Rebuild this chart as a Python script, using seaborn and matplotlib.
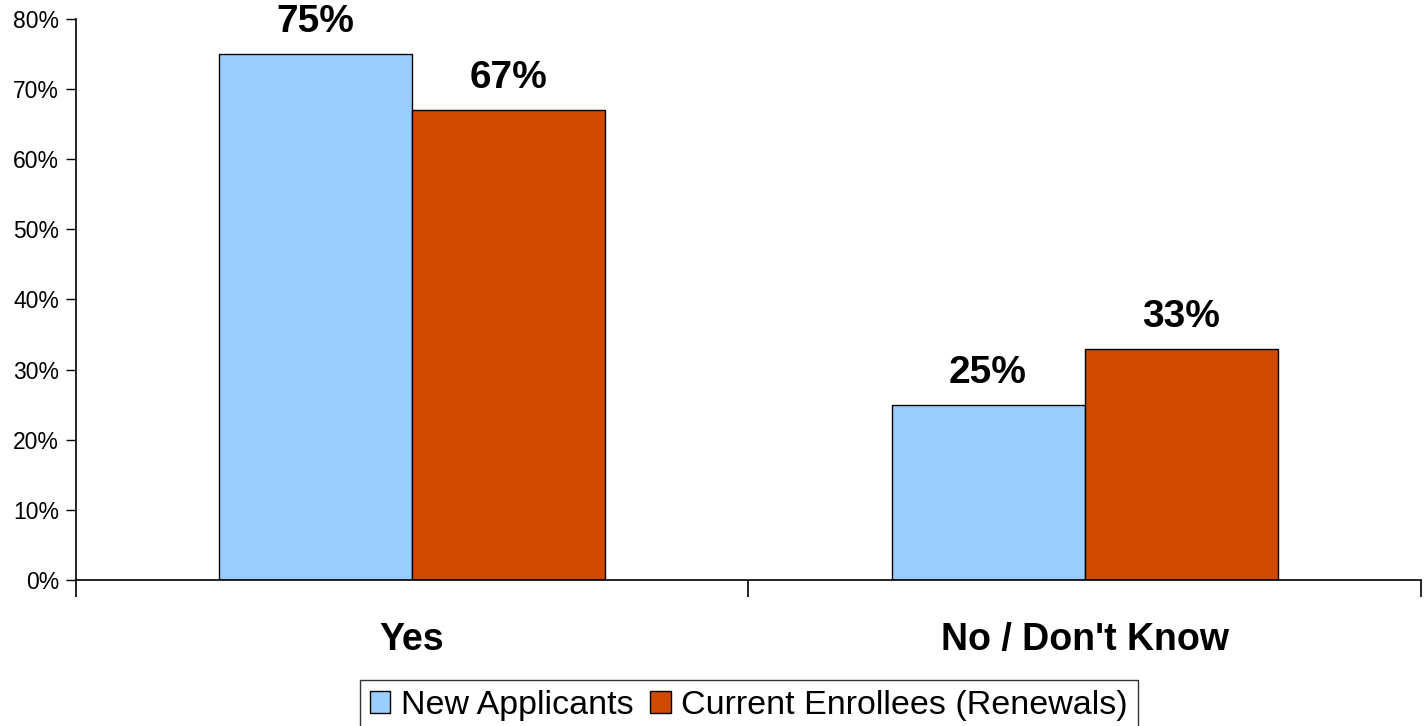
import matplotlib
matplotlib.use("Agg")
import matplotlib.pyplot as plt
import seaborn as sns
import pandas as pd
from matplotlib.ticker import FixedLocator, FuncFormatter

categories = ["Yes", "No / Don't Know"]
series_names = ["New Applicants", "Current Enrollees (Renewals)"]
new_applicants = [75, 25]
current_enrollees = [67, 33]
colors = ["#99CCFF", "#CF4A00"]
y_ticks = [0, 10, 20, 30, 40, 50, 60, 70, 80]

rows = []
for c, v in zip(categories, new_applicants):
    rows.append({"cat": c, "series": series_names[0], "val": v})
for c, v in zip(categories, current_enrollees):
    rows.append({"cat": c, "series": series_names[1], "val": v})
df = pd.DataFrame(rows)

sns.set_theme(style="white")
plt.rcParams["font.family"] = ["Liberation Sans", "DejaVu Sans"]
plt.rcParams["text.color"] = "black"
plt.rcParams["xtick.color"] = "black"
plt.rcParams["ytick.color"] = "black"
plt.rcParams["xtick.labelcolor"] = "black"
plt.rcParams["ytick.labelcolor"] = "black"

fig = plt.figure(figsize=(14.28, 7.26), dpi=100)
ax = fig.add_axes([0.053, 0.201, 0.942, 0.773])

sns.barplot(data=df, x="cat", y="val", hue="series", order=categories,
            hue_order=series_names, palette=colors, width=0.574,
            edgecolor="black", linewidth=1, saturation=1, ax=ax, legend=True)

ax.set_xlim(-0.5, 1.5)
ax.set_ylim(0, 80)
ax.set_yticks(y_ticks)
ax.yaxis.set_major_formatter(FuncFormatter(lambda v, p: f"{v:.0f}%"))
ax.tick_params(axis="y", which="major", length=7, width=1, color="black",
               direction="out", left=True, labelsize=16.5, pad=5)
ax.tick_params(axis="x", which="major", length=0, pad=30, labelsize=27)
for lab in ax.get_xticklabels():
    lab.set_fontweight("bold")
ax.xaxis.set_minor_locator(FixedLocator([-0.5, 0.5, 1.5]))
ax.tick_params(axis="x", which="minor", length=12, width=1.2, color="black",
               direction="out", bottom=True)
ax.set_xlabel("")
ax.set_ylabel("")
for s in ["top", "right"]:
    ax.spines[s].set_visible(False)
for s in ["left", "bottom"]:
    ax.spines[s].set_color("black")
    ax.spines[s].set_linewidth(1.2)

for cont in ax.containers:
    ax.bar_label(cont, labels=[f"{v:.0f}%" for v in cont.datavalues],
                 padding=10, fontsize=28, fontweight="bold", color="black")

handles, labels = ax.get_legend_handles_labels()
ax.get_legend().remove()
leg = fig.legend(handles, labels, loc="upper center", bbox_to_anchor=(0.5245, 0.0634),
                 ncol=2, frameon=True, fancybox=False, fontsize=24.5,
                 handlelength=0.59, handleheight=0.59, handletextpad=0.32,
                 columnspacing=0.5, borderpad=0.3, borderaxespad=0)
leg.get_frame().set_edgecolor("black")
leg.get_frame().set_linewidth(1)
for t in leg.get_texts():
    t.set_color("black")

fig.savefig("out.png", dpi=100)
